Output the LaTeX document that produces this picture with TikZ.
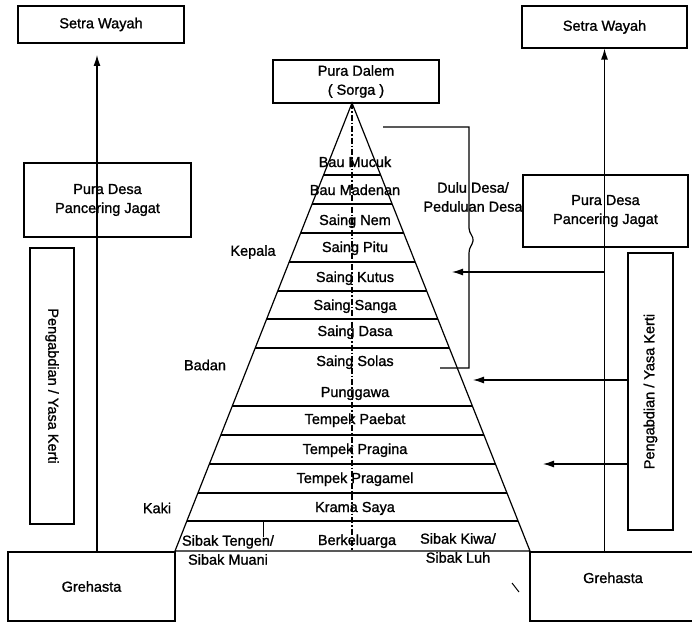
\documentclass[tikz,border=0pt]{standalone}
\usepackage{fontspec}
\setmainfont{Liberation Sans}[FakeBold=1.2]
\usepackage{graphicx}
\usepackage{tikz}
\usetikzlibrary{positioning,calc,arrows.meta}

\tikzset{
  box/.style={draw, align=center, inner sep=0pt},
  arr/.style={-{Latex[length=11pt,width=7pt]}},
}

\begin{document}
\begin{tikzpicture}[x=1pt, y=-1pt, line width=1.2pt, font=\fontsize{14.5}{19}\selectfont]
\useasboundingbox (0,0) rectangle (692,623);

\node[box, minimum width=166pt, minimum height=37pt] (setraL) at (101,24.5) {Setra Wayah};
\node[box, minimum width=165pt, minimum height=42pt] (setraR) at (604.5,27) {Setra Wayah};
\node[box, minimum width=167pt, minimum height=74pt] (puraL) at (107.5,200) {Pura Desa\\Pancering Jagat};
\node[box, minimum width=165pt, minimum height=72pt] (puraR) at (605.5,211) {Pura Desa\\Pancering Jagat};
\node[box, minimum width=44pt, minimum height=276pt] (yasaL) at (52,386) {\rotatebox{-90}{Pengabdian / Yasa Kerti}};
\node[box, minimum width=45pt, minimum height=277pt] (yasaR) at (650.5,391.5) {\rotatebox{90}{Pengabdian / Yasa Kerti}};
\node[box, minimum width=167pt, minimum height=69pt] (greL) at (91.5,586.5) {Grehasta};
\node[box, minimum width=166pt, minimum height=69pt, text height=10pt, text depth=17pt] (greR) at (613,586.5) {Grehasta};
\node[box, minimum width=166pt, minimum height=43pt] (dalem) at (356,81.5) {Pura Dalem\\( Sorga )};

\coordinate (apex) at (352,103);
\coordinate (baseL) at (175,551);
\coordinate (baseR) at (530,551);
\draw (baseL) -- (apex) -- (baseR) -- cycle;

\foreach \y in {175,204,233,262,291,319,348,406,435,464,493,521}
  \draw ($(apex)!{(\y-103)/448}!(baseL)$) -- ($(apex)!{(\y-103)/448}!(baseR)$);

\draw[dash pattern=on 6pt off 2pt on 1.5pt off 2pt] (apex) -- (apex |- baseL);

\foreach \t/\y [count=\i] in {Bau Mucuk/162, Bau Madenan/190, Saing Nem/220, Saing Pitu/247,
    Saing Kutus/277, Saing Sanga/305, Saing Dasa/331, Saing Solas/361, Punggawa/392,
    Tempek Paebat/419, Tempek Pragina/449, Tempek Pragamel/478, Krama Saya/507} {
  \node[anchor=base] (lv\i) at (355,\y+5) {\t};
}

\node[anchor=base] (kel) at (357,545) {Berkeluarga};
\node[align=center] (sibakL) at (228,550) {Sibak Tengen/\\Sibak Muani};
\node[align=center] (sibakR) at (458,548) {Sibak Kiwa/\\Sibak Luh};
\draw[line width=0.6pt] (263,521) -- (263,537);

\node (kepala) at (253,252) {Kepala};
\node (badan) at (205,365) {Badan};
\node (kaki) at (157,508) {Kaki};

\node[align=center] (dulu) at (473,197) {Dulu Desa/\\Peduluan Desa};
\draw (383,127) -- (469,127) -- (469,228) .. controls (469,234) and (474,236) .. (473,241)
  .. controls (472,246) and (469,247) .. (469,253) -- (469,368) -- (440,368);

\coordinate (tipL) at (97,55);
\draw[arr] (greL.north -| tipL) -- (tipL);
\draw[arr] (greR.north -| setraR.south) -- (setraR.south);

\coordinate (kutus) at (452,272);
\coordinate (solas) at (473,380);
\coordinate (pragina) at (543,464);
\draw[arr] (kutus -| setraR.south) -- (kutus);
\draw[arr] (yasaR.west |- solas) -- (solas);
\draw[arr] (yasaR.west |- pragina) -- (pragina);

\draw[line width=1pt] (512,583) -- (519,592);
\end{tikzpicture}
\end{document}
